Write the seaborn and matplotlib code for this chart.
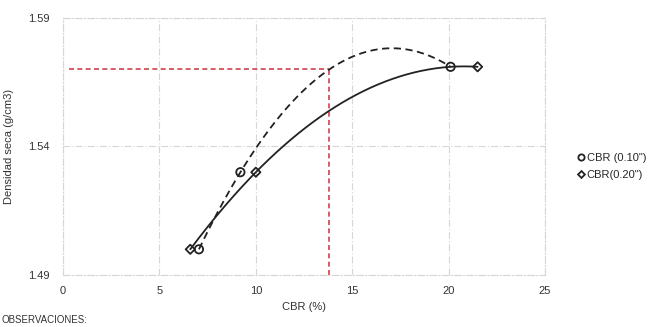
import numpy as np
import pandas as pd
import matplotlib
matplotlib.use("Agg")
import matplotlib.pyplot as plt
import seaborn as sns
from matplotlib.lines import Line2D

# Data
cbr_010 = [7.05, 9.2, 20.1]
dens_010 = [1.500, 1.530, 1.571]
cbr_020 = [6.6, 10.0, 21.5]
dens_020 = [1.500, 1.530, 1.571]
series_labels = ['CBR (0.10")', 'CBR(0.20")']
x_ticks = [0, 5, 10, 15, 20, 25]
y_ticks = [1.49, 1.54, 1.59]
ref_cbr = 13.8
ref_dens = 1.570

sns.set_theme(style="white")
plt.rcParams['font.family'] = ['Liberation Sans', 'DejaVu Sans']

fig = plt.figure(figsize=(6.48, 3.27), dpi=100)
ax = fig.add_axes([0.0972, 0.159, 0.744, 0.786])

# polynomial trendlines (order 2) from the data
def trend(xs, ys):
    c = np.polyfit(xs, ys, 2)
    xx = np.linspace(min(xs), max(xs), 200)
    return pd.DataFrame({"x": xx, "y": np.polyval(c, xx)})

t1 = trend(cbr_010, dens_010)
t2 = trend(cbr_020, dens_020)

# red reference lines
ax.plot([0.3, ref_cbr], [ref_dens, ref_dens], color="#d0414b", lw=1.2, ls=(0, (3, 2)), zorder=2)
ax.plot([ref_cbr, ref_cbr], [1.49, ref_dens], color="#d0414b", lw=1.2, ls=(0, (3, 2)), zorder=2)

sns.lineplot(data=t1, x="x", y="y", ax=ax, color="#222222", lw=1.3, zorder=3)
ax.lines[-1].set_linestyle((0, (4, 2.5)))
sns.lineplot(data=t2, x="x", y="y", ax=ax, color="#222222", lw=1.3, zorder=3)

sns.scatterplot(x=cbr_010, y=dens_010, ax=ax, marker="o", s=36, facecolor="none",
                edgecolor="#222222", linewidth=1.3, zorder=4)
sns.scatterplot(x=cbr_020, y=dens_020, ax=ax, marker="D", s=22, facecolor="none",
                edgecolor="#222222", linewidth=1.3, zorder=4)

ax.set_xlim(0, 25)
ax.set_ylim(1.49, 1.59)
ax.set_xticks(x_ticks)
ax.set_yticks(y_ticks)
ax.set_xticklabels([str(v) for v in x_ticks])
ax.set_yticklabels([f"{v:.2f}" for v in y_ticks])
ax.tick_params(axis="both", length=0, labelsize=8, colors="#333333")
ax.tick_params(axis="x", pad=8)
ax.tick_params(axis="y", pad=10)
ax.grid(True, color="#d6d6d6", lw=0.8, ls=(0, (6, 2, 1, 2)))
for s in ax.spines.values():
    s.set_color("#d6d6d6")
    s.set_linewidth(0.8)
    s.set_linestyle((0, (6, 2, 1, 2)))
ax.set_xlabel("CBR (%)", fontsize=8, color="#333333", labelpad=4)
ax.set_ylabel("Densidad seca (g/cm3)", fontsize=8, color="#333333", labelpad=10)

handles = [
    Line2D([], [], ls="none", marker="o", ms=4.5, mfc="none", mec="#222222", mew=1.3),
    Line2D([], [], ls="none", marker="D", ms=3.5, mfc="none", mec="#222222", mew=1.3),
]
fig.legend(handles, series_labels, loc="upper left", bbox_to_anchor=(0.885, 0.545),
           frameon=False, fontsize=8, handlelength=0.6, handletextpad=0.2,
           labelspacing=0.6, borderaxespad=0)

fig.text(0.002, 0.006, "OBSERVACIONES:", fontsize=7, color="#333333", ha="left", va="bottom")

fig.savefig("out.png", dpi=100)
